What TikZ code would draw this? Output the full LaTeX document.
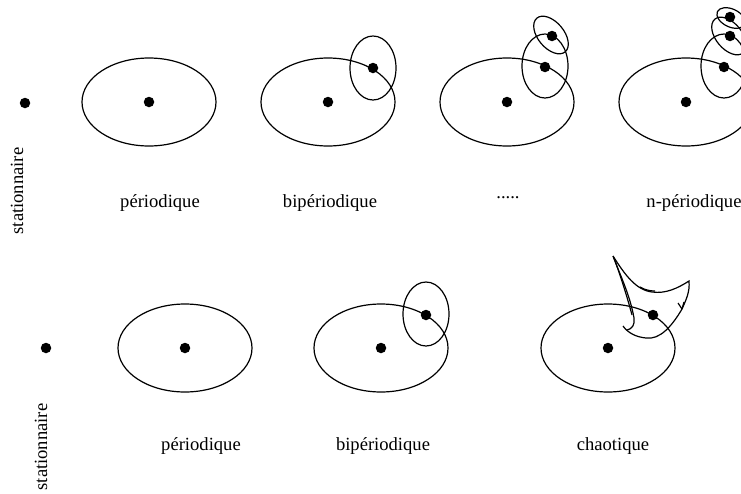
\documentclass[tikz,border=0pt]{standalone}
\usepackage{fontspec}
\setmainfont{Liberation Serif}
\begin{document}
\begin{tikzpicture}[x=1pt,y=-1pt,line width=1.2pt,
  pt/.style={fill=black,circle,inner sep=0pt,minimum size=10.5pt},
  lbl/.style={font=\fontsize{18.6}{20}\selectfont,anchor=base,inner sep=0pt},
  vlbl/.style={font=\fontsize{18.6}{20}\selectfont,rotate=90,inner sep=0pt}]
\useasboundingbox (0,0) rectangle (741,493);
\clip (0,0) rectangle (741,493);
% ---------- top row ----------
\node[pt] (s1) at (25,103) {};
\node[vlbl] (ls1) at (17,191) {stationnaire};
% periodic
\draw (149,102) ellipse (67 and 44);
\node[pt] (p1) at (149,102) {};
\node[lbl] (lp1) at (160,207) {périodique};
% biperiodic
\draw (328,102) ellipse (67 and 44);
\node[pt] (b1) at (328,102) {};
\node[pt] (b1a) at (373,68) {};
\draw (373,68) ellipse (23 and 32);
\node[lbl] (lb1) at (330,207) {bipériodique};
% triperiodic
\draw (507,102) ellipse (67 and 44);
\node[pt] (t1) at (507,102) {};
\node[pt] (t1a) at (545,67) {};
\draw (545,66) ellipse (23 and 32);
\node[pt] (t1b) at (552,36) {};
\draw[rotate around={-50:(551,35)}] (551,35) ellipse (22 and 13);
\node[lbl] (ld) at (508,198) {.....};
% n-periodic
\draw (686,102) ellipse (67 and 44);
\node[pt] (n1) at (686,102) {};
\node[pt] (n1a) at (724,67) {};
\draw (724,66) ellipse (23 and 32);
\node[pt] (n1b) at (730,36) {};
\draw[rotate around={-50:(729,36)}] (729,36) ellipse (22 and 13);
\node[pt] (n1c) at (730,17) {};
\draw[rotate around={-25:(731,18)}] (731,18) ellipse (15 and 9);
\node[lbl] (ln1) at (694,207) {n-périodique};
% ---------- bottom row ----------
\node[pt] (s2) at (46,348) {};
\node[vlbl] (ls2) at (41,447) {stationnaire};
% periodic
\draw (185,348) ellipse (67 and 44);
\node[pt] (p2) at (185,348) {};
\node[lbl] (lp2) at (201,450) {périodique};
% biperiodic
\draw (381,348) ellipse (67 and 44);
\node[pt] (b2) at (381,348) {};
\node[pt] (b2a) at (426,315) {};
\draw (426,314) ellipse (23 and 32);
\node[lbl] (lb2) at (383,450) {bipériodique};
% chaotic
\draw (608,348) ellipse (67 and 44);
\node[pt] (c2) at (608,348) {};
\node[pt] (c2a) at (653,315) {};
\draw (613,256) .. controls (620,275) and (630,295) .. (634,318)
      .. controls (635,325) and (632,329) .. (627,330);
\draw (614,258) .. controls (622,280) and (628,300) .. (632,315);
\draw (613,256) .. controls (625,275) and (636,290) .. (652,292)
      .. controls (666,294) and (678,288) .. (689,281)
      .. controls (690,292) and (686,300) .. (682,309)
      .. controls (672,326) and (660,340) .. (646,338)
      .. controls (636,337) and (628,333) .. (623,326);
\draw (640,287) .. controls (645,290) and (650,291) .. (655,291);
\draw (682,309) -- (684,302);
\draw (682,309) -- (678,303);
\node[lbl] (lc2) at (613,450) {chaotique};
\end{tikzpicture}
\end{document}
